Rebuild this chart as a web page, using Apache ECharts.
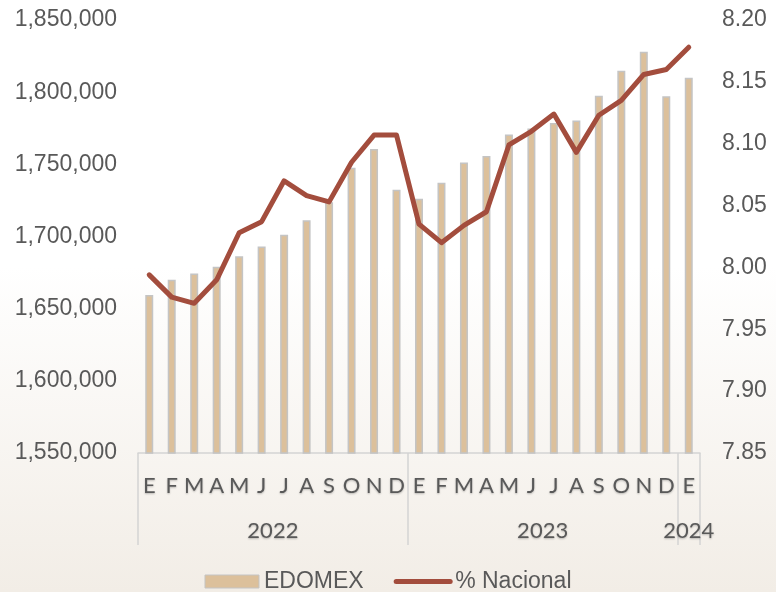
<!DOCTYPE html>
<html>
<head>
<meta charset="utf-8">
<script src="https://cdn.jsdelivr.net/npm/echarts@6/dist/echarts.min.js"></script>
<style>
  html, body { margin: 0; padding: 0; }
  body { background: linear-gradient(to bottom, #ffffff 0%, #ffffff 45%, #f2ede6 100%); }
  #chart { width: 776px; height: 592px; }
</style>
</head>
<body>
<div id="chart"></div>
<script>
  // meses (E = enero ... D = diciembre)
  var months = ['E','F','M','A','M','J','J','A','S','O','N','D',
                'E','F','M','A','M','J','J','A','S','O','N','D','E'];
  // posicion del rotulo de año (centro del grupo) y texto
  var yearPos = [6, 18, 24.5];
  var yearNames = ['2022', '2023', '2024'];
  // indices donde empieza cada año
  var yearStarts = [0, 12, 24];

  var edomex = [1659500, 1670000, 1674300, 1679000, 1686300, 1693000, 1701200, 1711300,
                1723800, 1747700, 1760600, 1732400,
                1726200, 1737300, 1751200, 1755800, 1770600, 1774800, 1778700, 1780300,
                1797500, 1814800, 1828000, 1797200,
                1810000];
  var nacional = [7.994, 7.976, 7.971, 7.990, 8.028, 8.037, 8.070, 8.058, 8.053, 8.085, 8.107, 8.107,
                  8.035, 8.020, 8.034, 8.045, 8.099, 8.110, 8.124, 8.093, 8.123, 8.135, 8.156, 8.160,
                  8.178];

  var txt = '#595959';
  var gridLine = '#d4d4d4';

  var chart = echarts.init(document.getElementById('chart'));
  chart.setOption({
    backgroundColor: 'transparent',
    animation: false,
    grid: { left: 138, right: 76, top: 20, bottom: 139 },
    legend: {
      top: 565,
      left: 'center',
      itemWidth: 54,
      itemHeight: 13,
      itemGap: 30,
      textStyle: { fontFamily: 'Liberation Sans', fontSize: 23, color: txt },
      data: [
        { name: 'EDOMEX', icon: 'rect', itemStyle: { color: '#dcc09b', borderColor: '#c4c4c4', borderWidth: 1 } },
        { name: '% Nacional', itemStyle: { opacity: 0 }, lineStyle: { width: 5, color: '#a34d3d', cap: 'round' } }
      ]
    },
    xAxis: [
      {
        type: 'category',
        data: months,
        position: 'bottom',
        axisLine: { show: true, lineStyle: { color: gridLine, width: 1.5 } },
        axisTick: {
          show: true,
          length: 92,
          interval: function (i) { return yearStarts.indexOf(i) >= 0; },
          lineStyle: { color: gridLine, width: 1.5 }
        },
        axisLabel: {
          interval: 0,
          margin: 22,
          fontFamily: 'Lato',
          fontSize: 22,
          color: txt,
          textShadowColor: 'rgba(0,0,0,0.25)',
          textShadowBlur: 2,
          textShadowOffsetY: 1
        }
      },
      {
        type: 'value',
        position: 'bottom',
        min: 0,
        max: months.length,
        interval: 0.5,
        axisLine: { show: false },
        axisTick: { show: false },
        splitLine: { show: false },
        axisLabel: {
          margin: 67,
          fontFamily: 'Lato',
          fontSize: 22,
          color: txt,
          textShadowColor: 'rgba(0,0,0,0.25)',
          textShadowBlur: 2,
          textShadowOffsetY: 1,
          formatter: function (v) {
            var k = yearPos.indexOf(v);
            return k >= 0 ? yearNames[k] : '';
          }
        }
      }
    ],
    yAxis: [
      {
        type: 'value',
        min: 1550000,
        max: 1850000,
        interval: 50000,
        splitLine: { show: false },
        axisLine: { show: false },
        axisTick: { show: false },
        axisLabel: {
          margin: 21,
          fontFamily: 'Liberation Sans',
          fontSize: 23,
          color: txt,
          formatter: function (v) { return v.toLocaleString('en-US'); }
        }
      },
      {
        type: 'value',
        min: 7.85,
        max: 8.20,
        interval: 0.05,
        splitLine: { show: false },
        axisLine: { show: false },
        axisTick: { show: false },
        axisLabel: {
          margin: 22,
          fontFamily: 'Liberation Sans',
          fontSize: 23,
          color: txt,
          formatter: function (v) { return v.toFixed(2); }
        }
      }
    ],
    series: [
      {
        name: 'EDOMEX',
        type: 'bar',
        xAxisIndex: 0,
        yAxisIndex: 0,
        barWidth: 8,
        data: edomex,
        itemStyle: { color: '#dcc09b', borderColor: '#c4c4c4', borderWidth: 1.5 }
      },
      {
        name: '% Nacional',
        type: 'line',
        xAxisIndex: 0,
        yAxisIndex: 1,
        data: nacional,
        symbol: 'none',
        lineStyle: { color: '#a34d3d', width: 5, join: 'round', cap: 'round' },
        itemStyle: { color: '#a34d3d' },
        z: 3
      }
    ]
  });
</script>
</body>
</html>
